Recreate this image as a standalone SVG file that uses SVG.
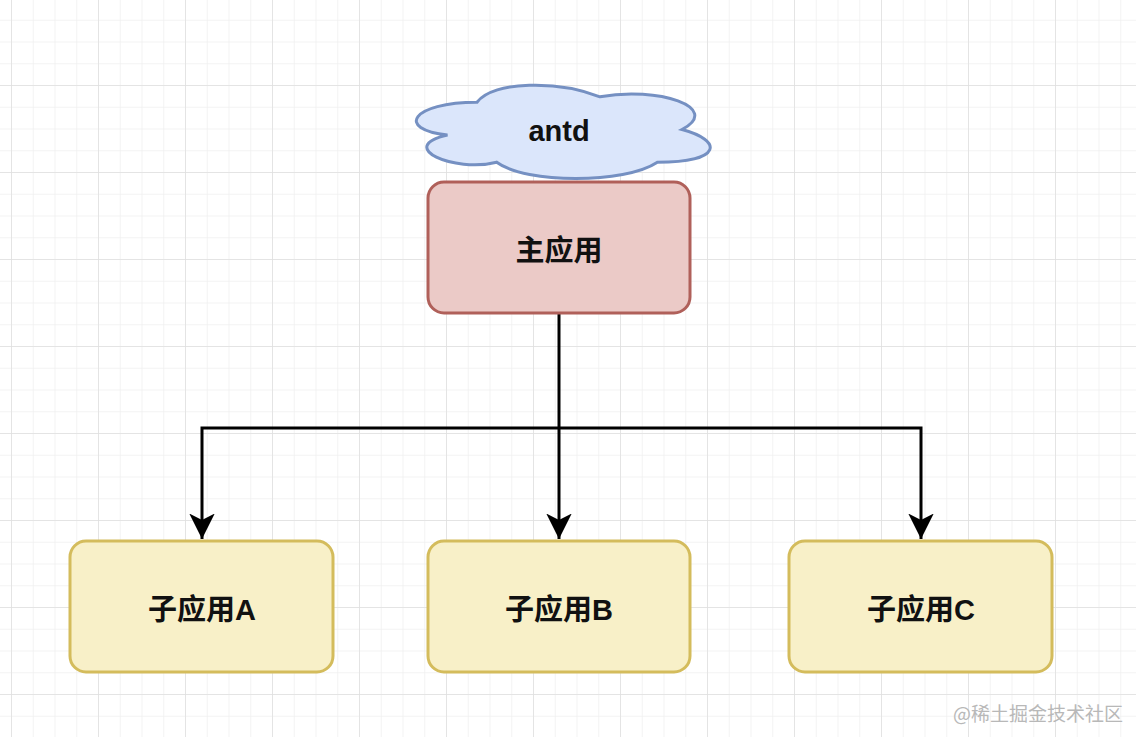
<svg xmlns="http://www.w3.org/2000/svg" width="1136" height="737" viewBox="0 0 1136 737">
<defs>
<pattern id="minor" x="11" y="-2" width="21.75" height="21.75" patternUnits="userSpaceOnUse">
<path d="M 0 0 L 0 21.75 M 0 0 L 21.75 0" fill="none" stroke="#efefef" stroke-width="1.5"/>
</pattern>
<pattern id="major" x="11" y="-2" width="87" height="87" patternUnits="userSpaceOnUse">
<path d="M 0 0 L 0 87 M 0 0 L 87 0" fill="none" stroke="#e0e0e0" stroke-width="1.5"/>
</pattern>
<marker id="arrow" viewBox="0 0 10 10" refX="10" refY="5" markerWidth="8.5" markerHeight="8.5" markerUnits="strokeWidth" orient="auto">
<path d="M 0 0 L 10 5 L 0 10 L 2.5 5 Z" fill="#000"/>
</marker>
<style>
.sub rect{fill:#f8f0c8;stroke:#d4bc5c;stroke-width:3}
.lbl{font-family:"Liberation Sans","Noto Sans CJK SC",sans-serif;font-weight:bold;fill:#111;text-anchor:middle;dominant-baseline:central}
.edge{fill:none;stroke:#000;stroke-width:3;marker-end:url(#arrow)}
</style>
</defs>
<rect width="1136" height="737" fill="#fff"/>
<rect width="1136" height="737" fill="url(#minor)"/>
<rect width="1136" height="737" fill="url(#major)"/>
<g id="connectors">
<path class="edge" d="M 559 314 L 559 539"/>
<path class="edge" d="M 559 428 L 202 428 L 202 539"/>
<path class="edge" d="M 559 428 L 921 428 L 921 539"/>
</g>
<g id="cloud-antd">
<path transform="translate(395 75) scale(328 109)" vector-effect="non-scaling-stroke" d="M 0.25 0.25 C 0.05 0.25 0 0.5 0.16 0.55 C 0 0.66 0.18 0.9 0.31 0.8 C 0.4 1 0.7 1 0.8 0.8 C 1 0.8 1 0.6 0.875 0.5 C 1 0.3 0.8 0.1 0.625 0.2 C 0.5 0.05 0.3 0.05 0.25 0.25 Z" fill="#dbe6fb" stroke="#7590c2" stroke-width="3"/>
<text class="lbl" x="559" y="131" font-size="29">antd</text>
</g>
<g id="main">
<rect x="428" y="182" width="262" height="131" rx="16" fill="#ebcac7" stroke="#b0605a" stroke-width="3"/>
<text class="lbl" x="559" y="251" font-size="29">主应用</text>
</g>
<g id="sub-a" class="sub">
<rect x="70" y="541" width="263" height="131" rx="16"/>
<text class="lbl" x="202" y="610" font-size="29">子应用A</text>
</g>
<g id="sub-b" class="sub">
<rect x="428" y="541" width="262" height="131" rx="16"/>
<text class="lbl" x="559" y="610" font-size="29">子应用B</text>
</g>
<g id="sub-c" class="sub">
<rect x="789" y="541" width="263" height="131" rx="16"/>
<text class="lbl" x="921" y="610" font-size="29">子应用C</text>
</g>
<text x="1123" y="712" font-family="'Noto Sans CJK SC',sans-serif" font-size="19" fill="#b8b8b8" text-anchor="end" dominant-baseline="central">@稀土掘金技术社区</text>
</svg>
